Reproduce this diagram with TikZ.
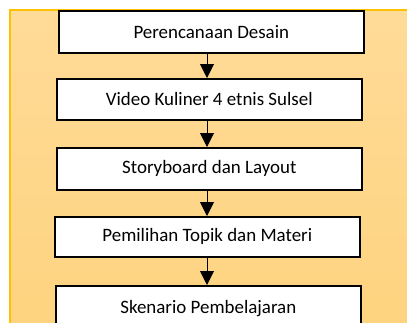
\documentclass[tikz,border=0pt]{standalone}
\usepackage{fontspec}
\setmainfont{Carlito}
\usetikzlibrary{arrows.meta}
\definecolor{bgtop}{HTML}{FFDB98}
\definecolor{bgbot}{HTML}{FED37E}
\definecolor{bgedge}{HTML}{FFC000}
\tikzset{
  stepbox/.style={draw=black, line width=1.6bp, fill=white, minimum width=305bp, inner sep=0pt, font=\fontsize{19}{22}\selectfont, anchor=north west},
  flowarrow/.style={draw=black, line width=1bp, -{Triangle[width=14bp,length=14bp]}, shorten <=0pt}
}
\begin{document}
\begin{tikzpicture}[x=1bp,y=-1bp]
\useasboundingbox (0,0) rectangle (407,323);
\clip (0,0) rectangle (407,323);
\shade[top color=bgtop, bottom color=bgbot, draw=bgedge, line width=1.4bp] (10,10) rectangle (420,340);
\node[stepbox, minimum height=42bp] (b1) at (58,10) {Perencanaan Desain};
\node[stepbox, minimum height=41bp] (b2) at (56,78) {Video Kuliner 4 etnis Sulsel};
\node[stepbox, minimum height=42bp] (b3) at (56,147) {Storyboard dan Layout};
\node[stepbox, minimum height=40bp] (b4) at (54,216) {Pemilihan Topik dan Materi};
\node[stepbox, minimum height=46bp] (b5) at (55,285) {Skenario Pembelajaran};
\coordinate (a1s) at (207,52); \coordinate (a1e) at (207,77);
\coordinate (a2s) at (207,119); \coordinate (a2e) at (207,146);
\coordinate (a3s) at (207,189); \coordinate (a3e) at (207,215);
\coordinate (a4s) at (207,256); \coordinate (a4e) at (207,284);
\draw[flowarrow] (b1.south -| a1s) -- (b2.north -| a1e);
\draw[flowarrow] (b2.south -| a2s) -- (b3.north -| a2e);
\draw[flowarrow] (b3.south -| a3s) -- (b4.north -| a3e);
\draw[flowarrow] (b4.south -| a4s) -- (b5.north -| a4e);
\end{tikzpicture}
\end{document}
